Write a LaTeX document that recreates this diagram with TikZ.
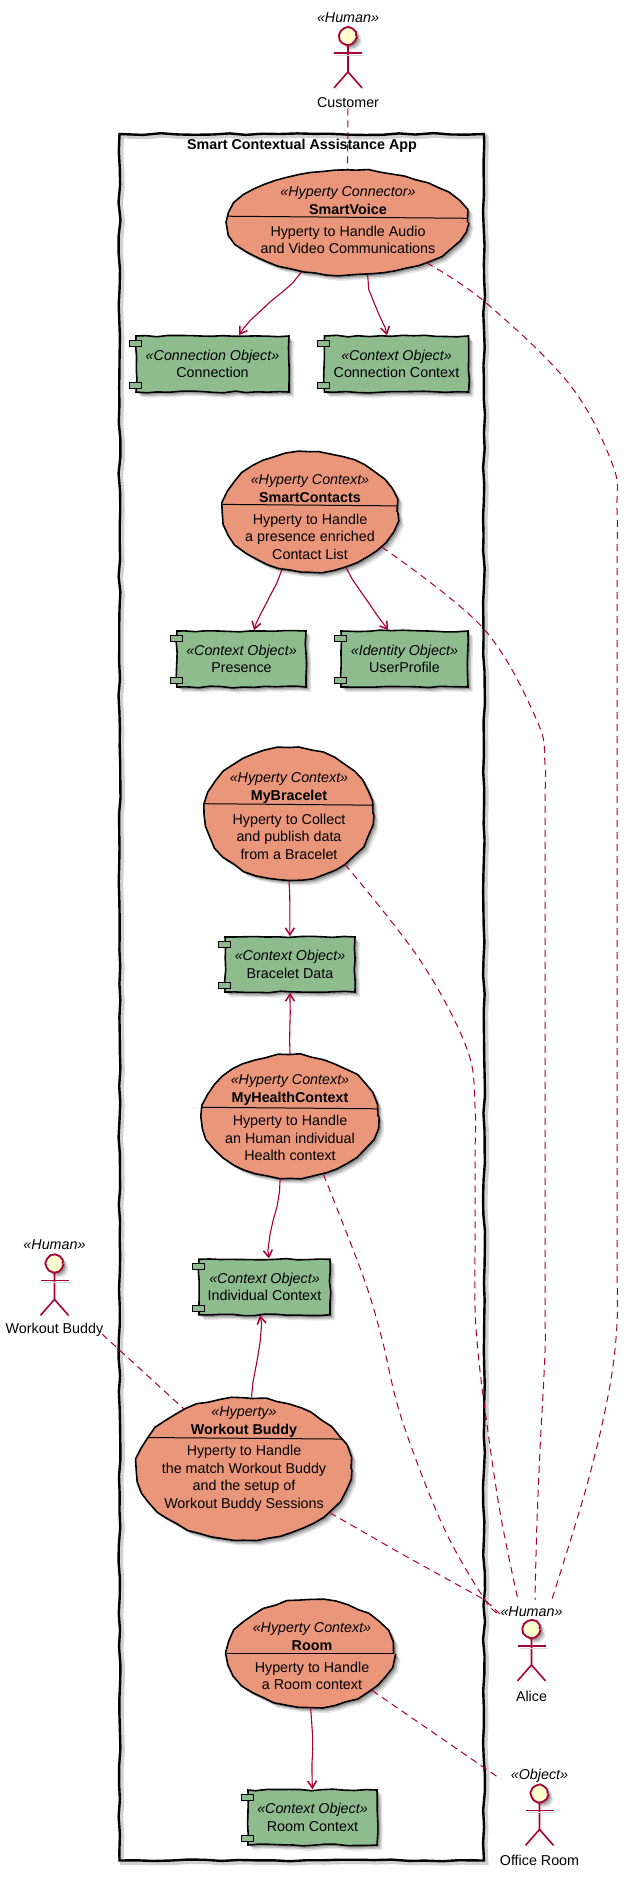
\documentclass[tikz,border=0pt]{standalone}
\usepackage{fontspec}
\setmainfont{Liberation Sans}
\usetikzlibrary{shapes.geometric,shadows,decorations.pathmorphing,arrows.meta}
\definecolor{umlred}{HTML}{A80036}
\definecolor{actorfill}{HTML}{FEFECE}
\definecolor{hypertyfill}{HTML}{E9967A}
\definecolor{objectfill}{HTML}{8FBC8F}
\tikzset{
  wobble/.style={decorate,decoration={random steps,segment length=11pt,amplitude=0.9pt}},
  softshadow/.style={drop shadow={shadow xshift=5pt,shadow yshift=-5pt,fill=black,opacity=0.10},
    drop shadow={shadow xshift=3.5pt,shadow yshift=-3.5pt,fill=black,opacity=0.16},
    drop shadow={shadow xshift=2pt,shadow yshift=-2pt,fill=black,opacity=0.22}},
  label/.style={font=\fontsize{14.3}{17.5}\selectfont,align=center,inner sep=0pt},
  stereo/.style={label,font=\fontsize{14.3}{17.5}\selectfont\itshape},
  appframe/.style={draw=black,line width=2.4pt,inner sep=0pt,
    decorate,decoration={random steps,segment length=17pt,amplitude=1pt},
    preaction={draw=black!18,line width=4pt,transform canvas={xshift=2.5pt,yshift=-2.5pt}}},
  hyperty/.style={ellipse,draw=black,line width=1.6pt,fill=hypertyfill,softshadow,inner sep=0pt,
    decorate,decoration={random steps,segment length=12pt,amplitude=1.1pt}},
  objectbox/.style={rectangle,draw=black,line width=1.6pt,fill=objectfill,wobble,softshadow,
    font=\fontsize{14.3}{17.5}\selectfont,align=center,inner sep=0pt},
  port/.style={rectangle,draw=black,line width=1pt,fill=objectfill,minimum width=12pt,minimum height=6pt,inner sep=0pt},
  divider/.style={draw=black,line width=1pt},
  actorhead/.style={circle,draw=umlred,line width=1.8pt,fill=actorfill,minimum size=16pt,inner sep=0pt,
    decorate,decoration={random steps,segment length=4pt,amplitude=0.4pt},softshadow},
  actorline/.style={draw=umlred,line width=1.6pt,
    preaction={draw=black!15,transform canvas={xshift=2pt,yshift=-2pt}}},
  uses/.style={draw=umlred,line width=1.1pt,-{Straight Barb[length=7pt,width=9pt,line width=1.5pt]},
    decorate,decoration={random steps,segment length=14pt,amplitude=0.5pt,post length=8pt}},
  link/.style={draw=umlred,line width=1pt,dash pattern=on 7pt off 5pt}
}
\pgfmathsetseed{7}
\begin{document}
\begin{tikzpicture}[x=1pt,y=-1pt]
  \useasboundingbox (0,0) rectangle (628,1878);
  % system frame
  \node[appframe,minimum width=364.5pt,minimum height=1726.5pt] (app) at (301.75,997.25) {};
  \node[label,font=\fontsize{14.3}{17.5}\selectfont\bfseries] (app-title) at (302,146) {Smart Contextual Assistance App};

  % hyperties
  \node[hyperty,minimum width=240pt,minimum height=105pt] (smartvoice) at (347.5,222.5) {};
  \draw[divider] (smartvoice.177.4) -- (smartvoice.2.6);
  \node[label] (smartvoice-head) at (348,200.5) {\textit{«Hyperty Connector»}\\\textbf{SmartVoice}};
  \node[label] (smartvoice-body) at (348,240) {Hyperty to Handle Audio\\and Video Communications};

  \node[hyperty,minimum width=174pt,minimum height=120pt] (smartcontacts) at (310,512) {};
  \draw[divider] (smartcontacts.175.3) -- (smartcontacts.4.7);
  \node[label] (smartcontacts-head) at (310,488.5) {\textit{«Hyperty Context»}\\\textbf{SmartContacts}};
  \node[label] (smartcontacts-body) at (310,536.5) {Hyperty to Handle\\a presence enriched\\Contact List};

  \node[hyperty,minimum width=168pt,minimum height=132pt] (mybracelet) at (289,814) {};
  \draw[divider] (mybracelet.173.9) -- (mybracelet.6.1);
  \node[label] (mybracelet-head) at (289,788) {\textit{«Hyperty Context»}\\\textbf{MyBracelet}};
  \node[label] (mybracelet-body) at (289,836.5) {Hyperty to Collect\\and publish data\\from a Bracelet};

  \node[hyperty,minimum width=176pt,minimum height=123pt] (myhealth) at (290,1116.5) {};
  \draw[divider] (myhealth.174.9) -- (myhealth.5.1);
  \node[label] (myhealth-head) at (290,1090) {\textit{«Hyperty Context»}\\\textbf{MyHealthContext}};
  \node[label] (myhealth-body) at (290,1138) {Hyperty to Handle\\an Human individual\\Health context};

  \node[hyperty,minimum width=214pt,minimum height=142pt] (workout) at (244,1469) {};
  \draw[divider] (workout.162.5) -- (workout.17.5);
  \node[label] (workout-head) at (244,1422) {\textit{«Hyperty»}\\\textbf{Workout Buddy}};
  \node[label] (workout-body) at (244,1478.5) {Hyperty to Handle\\the match Workout Buddy\\and the setup of\\Workout Buddy Sessions};

  \node[hyperty,minimum width=166pt,minimum height=107pt] (room) at (310.6,1653.5) {};
  \draw[divider] (room.west) -- (room.east);
  \node[label] (room-head) at (312,1636.5) {\textit{«Hyperty Context»}\\\textbf{Room}};
  \node[label] (room-body) at (312,1676) {Hyperty to Handle\\a Room context};

  % data objects
  \node[objectbox,minimum width=153pt,minimum height=56pt] (connection) at (212.5,364) {\textit{«Connection Object»}\\Connection};
  \node[port] (connection-a) at ([yshift=-8pt]connection.north west) {};
  \node[port] (connection-b) at ([yshift=7pt]connection.south west) {};
  \node[objectbox,minimum width=144pt,minimum height=56pt] (connctx) at (396.5,364) {\textit{«Context Object»}\\Connection Context};
  \node[port] (connctx-a) at ([yshift=-8pt]connctx.north west) {};
  \node[port] (connctx-b) at ([yshift=7pt]connctx.south west) {};
  \node[objectbox,minimum width=129pt,minimum height=56pt] (presence) at (241.5,659) {\textit{«Context Object»}\\Presence};
  \node[port] (presence-a) at ([yshift=-8pt]presence.north west) {};
  \node[port] (presence-b) at ([yshift=7pt]presence.south west) {};
  \node[objectbox,minimum width=127pt,minimum height=56pt] (userprofile) at (404.5,659) {\textit{«Identity Object»}\\UserProfile};
  \node[port] (userprofile-a) at ([yshift=-8pt]userprofile.north west) {};
  \node[port] (userprofile-b) at ([yshift=7pt]userprofile.south west) {};
  \node[objectbox,minimum width=130pt,minimum height=55pt] (bracelet) at (290,964.5) {\textit{«Context Object»}\\Bracelet Data};
  \node[port] (bracelet-a) at ([yshift=-8pt]bracelet.north west) {};
  \node[port] (bracelet-b) at ([yshift=7pt]bracelet.south west) {};
  \node[objectbox,minimum width=131pt,minimum height=55.5pt] (individual) at (264.5,1287) {\textit{«Context Object»}\\Individual Context};
  \node[port] (individual-a) at ([yshift=-8pt]individual.north west) {};
  \node[port] (individual-b) at ([yshift=7pt]individual.south west) {};
  \node[objectbox,minimum width=129pt,minimum height=55pt] (roomctx) at (312.5,1817.5) {\textit{«Context Object»}\\Room Context};
  \node[port] (roomctx-a) at ([yshift=-8pt]roomctx.north west) {};
  \node[port] (roomctx-b) at ([yshift=7pt]roomctx.south west) {};

  % actors
  \node[stereo] (customer-st) at (348,18) {«Human»};
  \node[actorhead] (customer) at (348,36) {};
  \draw[actorline] (customer.south) -- +(0,27) -- +(-14,43);
  \draw[actorline] (customer.south) ++(0,27) -- +(14,16);
  \draw[actorline] (customer.south) ++(-14,8) -- +(28,0);
  \node[label] (customer-name) at (348,103) {Customer};

  \node[stereo] (buddy-st) at (54.5,1245) {«Human»};
  \node[actorhead] (buddy) at (54.5,1263.5) {};
  \draw[actorline] (buddy.south) -- +(0,27) -- +(-14,43);
  \draw[actorline] (buddy.south) ++(0,27) -- +(14,16);
  \draw[actorline] (buddy.south) ++(-14,8) -- +(28,0);
  \node[label] (buddy-name) at (54.5,1330) {Workout Buddy};

  \node[stereo] (alice-st) at (531.5,1612) {«Human»};
  \node[actorhead] (alice) at (531.5,1629) {};
  \draw[actorline] (alice.south) -- +(0,27) -- +(-14,43);
  \draw[actorline] (alice.south) ++(0,27) -- +(14,16);
  \draw[actorline] (alice.south) ++(-14,8) -- +(28,0);
  \node[label] (alice-name) at (531.5,1696) {Alice};

  \node[stereo] (office-st) at (539.5,1776) {«Object»};
  \node[actorhead] (office) at (539.5,1793.5) {};
  \draw[actorline] (office.south) -- +(0,27) -- +(-14,43);
  \draw[actorline] (office.south) ++(0,27) -- +(14,16);
  \draw[actorline] (office.south) ++(-14,8) -- +(28,0);
  \node[label] (office-name) at (539.5,1860.5) {Office Room};

  % connector ends beside the labels
  \coordinate (alice-a) at (500,1614);
  \coordinate (alice-b) at (518,1600);
  \coordinate (alice-c) at (535,1600);
  \coordinate (alice-d) at (551.7,1600);
  \coordinate (office-a) at (500.6,1779);
  \coordinate (buddy-a) at (102,1334);

  % uses
  \draw[uses] (smartvoice.-133) to[out=-130,in=55] ([xshift=26.5pt]connection.north);
  \draw[uses] (smartvoice.-69) to[out=-85,in=105] ([xshift=-9.5pt]connctx.north);
  \draw[uses] (smartcontacts.-116) to[out=-112,in=70] ([xshift=12.5pt]presence.north);
  \draw[uses] (smartcontacts.-57) to[out=-60,in=125] ([xshift=-16.5pt]userprofile.north);
  \draw[uses] (mybracelet.south) -- (bracelet.north);
  \draw[uses] (myhealth.north) -- (bracelet.south);
  \draw[uses] (myhealth.-99) to[out=-92,in=92] ([xshift=4.5pt]individual.north);
  \draw[uses] (workout.84) to[out=85,in=-85] ([xshift=-4.5pt]individual.south);
  \draw[uses] (room.south) to[out=-85,in=92] (roomctx.north);

  % associations
  \draw[link] (customer-name.south) -- (smartvoice.north);
  \draw[link] plot[smooth,tension=0.6] coordinates {(smartvoice.-27) (485,302) (570,385) (612.7,465)
    (617,510) (617,600) (617,900) (617,1200) (617,1262) (616.7,1329) (608,1396) (586.7,1486) (alice-d)};
  \draw[link] plot[smooth,tension=0.6] coordinates {(smartcontacts.-26) (483,628) (536.7,720) (545,764)
    (545,820) (545,1100) (545,1300) (545,1352) (540,1450) (536.7,1530) (alice-c)};
  \draw[link] plot[smooth,tension=0.6] coordinates {(mybracelet.-42) (420,960) (466.7,1048) (475,1106)
    (475,1160) (475,1250) (475,1307) (478,1352) (485,1410) (500,1512) (alice-b)};
  \draw[link] plot[smooth,tension=0.6] coordinates {(myhealth.-60) (363,1276) (381.7,1338) (401.7,1419)
    (443,1526) (485,1600) (alice-a)};
  \draw[link] (workout.-27) -- (400,1553) -- (485,1600) -- (alice-a);
  \draw[link] (buddy-a) -- (workout.135);
  \draw[link] (room.-31) -- (office-a);
\end{tikzpicture}
\end{document}
